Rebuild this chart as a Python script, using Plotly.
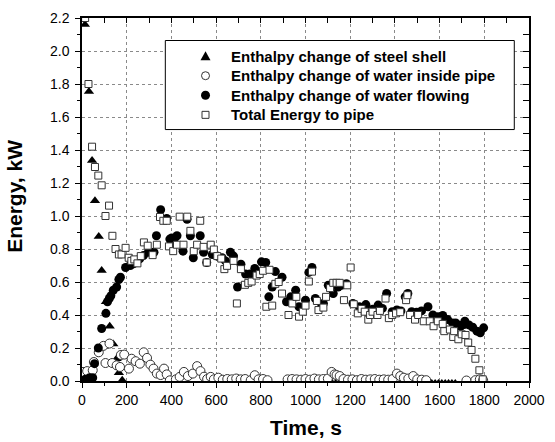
import plotly.graph_objects as go

# Enthalpy change of steel shell (kW)
shell_t = [13, 31, 45, 58, 75, 88, 107, 124, 140, 155, 165, 180,
           1120, 1135, 1150, 1165, 1180, 1195,
           1565, 1580, 1595, 1610, 1625, 1640, 1655, 1670]
shell_e = [2.16, 1.755, 1.336, 1.093, 0.876, 0.67, 0.48, 0.332, 0.224, 0.135, 0.05, 0.005,
           -0.015, -0.015, -0.015, -0.015, -0.015, -0.015,
           -0.015, -0.015, -0.015, -0.015, -0.015, -0.015, -0.015, -0.015]

# Enthalpy change of water inside pipe (kW)
inside_t = [5, 23, 48, 53, 75, 96, 105, 123, 135, 155, 170, 174, 189, 210, 222, 240, 259,
            276, 291, 306, 320, 335, 352, 367, 379, 393, 420, 437, 456, 474, 496, 515, 530,
            546, 560, 576, 590, 610, 630, 650, 670, 690, 710, 730, 755, 773, 790, 810, 830,
            920, 940, 960, 980, 1000, 1020, 1040, 1060, 1080, 1100, 1117, 1130, 1139, 1153,
            1170, 1190, 1210, 1230, 1250, 1270, 1290, 1310, 1330, 1350, 1370, 1390, 1409,
            1424, 1440, 1460, 1482, 1500, 1520, 1540, 1720, 1760, 1780, 1795]
inside_e = [0.055, 0.06, 0.065, 0.115, 0.174, 0.213, 0.109, 0.227, 0.109, 0.095, 0.085,
            0.158, 0.16, 0.075, 0.135, 0.12, 0.105, 0.174, 0.14, 0.099, 0.075, 0.045, 0.036,
            0.075, 0.04, 0.004, 0.01, 0.025, 0.055, 0.03, 0.045, 0.09, 0.06, 0.026, 0.012,
            0.025, 0.01, 0.02, 0.008, 0.012, 0.01, 0.015, 0.01, 0.012, 0.005, 0.035, 0.01,
            0.012, 0.005, 0.01, 0.012, 0.01, 0.008, 0.012, 0.008, 0.015, 0.01, 0.012, 0.015,
            0.055, 0.04, 0.036, 0.03, 0.012, 0.008, 0.01, 0.005, 0.012, 0.008, 0.01, 0.012,
            0.008, 0.01, 0.008, 0.012, 0.045, 0.03, 0.02, 0.015, 0.03, 0.01, 0.008, 0.005,
            0.003, 0.005, 0.01, 0.005]

# Enthalpy change of water flowing (kW)
flow_t = [15, 34, 48, 56, 73, 88, 107, 114, 122, 129, 140, 155, 165, 172, 195, 216, 230,
          243, 258, 275, 297, 322, 333, 352, 379, 393, 401, 415, 425, 452, 470, 485, 498,
          529, 544, 558, 583, 605, 627, 642, 664, 678, 696, 711, 732, 751, 773, 803, 822,
          836, 851, 865, 895, 915, 934, 956, 971, 1000, 1015, 1029, 1044, 1073, 1080, 1102,
          1124, 1146, 1161, 1183, 1212, 1241, 1270, 1300, 1325, 1344, 1363, 1388, 1409,
          1427, 1446, 1458, 1475, 1497, 1519, 1548, 1570, 1592, 1614, 1636, 1658, 1672,
          1687, 1694, 1709, 1713, 1731, 1748, 1767, 1782, 1797]
flow_e = [0.01, 0.02, 0.02, 0.105, 0.2, 0.318, 0.41, 0.48, 0.5, 0.516, 0.55, 0.57, 0.615,
          0.629, 0.688, 0.7, 0.71, 0.72, 0.74, 0.76, 0.78, 0.78, 0.88, 1.038, 0.985, 0.86,
          0.866, 0.866, 0.88, 0.787, 0.98, 0.88, 0.747, 0.88, 0.78, 0.718, 0.767, 0.757,
          0.747, 0.728, 0.78, 0.757, 0.57, 0.708, 0.648, 0.648, 0.682, 0.722, 0.718, 0.51,
          0.57, 0.663, 0.629, 0.48, 0.51, 0.55, 0.45, 0.49, 0.658, 0.688, 0.5, 0.46, 0.47,
          0.58, 0.53, 0.57, 0.58, 0.59, 0.47, 0.45, 0.463, 0.435, 0.46, 0.44, 0.53, 0.42,
          0.43, 0.425, 0.51, 0.53, 0.42, 0.417, 0.425, 0.45, 0.4, 0.39, 0.397, 0.372, 0.352,
          0.352, 0.338, 0.332, 0.342, 0.362, 0.34, 0.326, 0.302, 0.292, 0.322]

# Total energy to pipe (kW)
total_t = [14, 29, 45, 58, 73, 88, 105, 121, 136, 150, 165, 177, 195, 209, 221, 234, 248,
           263, 277, 294, 316, 335, 349, 364, 379, 389, 408, 425, 437, 454, 471, 485, 500,
           515, 529, 544, 558, 576, 590, 605, 623, 637, 649, 678, 693, 711, 729, 744, 759,
           781, 795, 810, 825, 839, 851, 865, 880, 895, 924, 941, 959, 971, 988, 1000, 1015,
           1029, 1051, 1058, 1080, 1092, 1110, 1124, 1139, 1153, 1172, 1187, 1202, 1216,
           1234, 1251, 1265, 1281, 1289, 1300, 1322, 1333, 1358, 1373, 1388, 1405, 1424,
           1450, 1456, 1468, 1490, 1504, 1529, 1556, 1573, 1592, 1614, 1621, 1646, 1661,
           1665, 1684, 1699, 1716, 1728, 1743, 1760, 1778, 1793]
total_e = [2.2, 1.8, 1.42, 1.297, 1.245, 1.186, 1.0, 1.063, 0.88, 0.8, 0.767, 0.767, 0.807,
           0.747, 0.728, 0.737, 0.713, 0.757, 0.84, 0.82, 0.763, 0.826, 0.994, 0.971, 0.971,
           0.816, 0.787, 0.826, 0.996, 0.826, 0.996, 0.91, 0.787, 0.826, 0.971, 0.813,
           0.718, 0.826, 0.797, 0.757, 0.742, 0.678, 0.698, 0.728, 0.47, 0.678, 0.583,
           0.595, 0.603, 0.639, 0.648, 0.668, 0.45, 0.674, 0.457, 0.589, 0.6, 0.53, 0.4,
           0.47, 0.51, 0.39, 0.42, 0.457, 0.603, 0.663, 0.485, 0.43, 0.445, 0.51, 0.563,
           0.595, 0.595, 0.595, 0.49, 0.58, 0.688, 0.465, 0.41, 0.437, 0.42, 0.372, 0.4,
           0.42, 0.4, 0.425, 0.5, 0.381, 0.4, 0.41, 0.417, 0.49, 0.52, 0.4, 0.372, 0.4,
           0.362, 0.362, 0.332, 0.362, 0.346, 0.302, 0.312, 0.267, 0.302, 0.253, 0.283,
           0.279, 0.233, 0.188, 0.135, 0.065, 0.01]

series_names = ["Enthalpy change of steel shell",
                "Enthalpy change of water inside pipe",
                "Enthalpy change of water flowing",
                "Total Energy to pipe"]

FONT = "Liberation Sans, Arial, sans-serif"
EDGE = "#333333"

fig = go.Figure()
fig.add_trace(go.Scatter(
    x=shell_t, y=shell_e, mode="markers", name=series_names[0],
    marker=dict(symbol="triangle-up", size=9, color="black", line=dict(width=0))))
fig.add_trace(go.Scatter(
    x=inside_t, y=inside_e, mode="markers", name=series_names[1],
    marker=dict(symbol="circle", size=9, color="white", line=dict(width=1, color=EDGE))))
fig.add_trace(go.Scatter(
    x=flow_t, y=flow_e, mode="markers", name=series_names[2],
    marker=dict(symbol="circle", size=9, color="black", line=dict(width=0))))
fig.add_trace(go.Scatter(
    x=total_t, y=total_e, mode="markers", name=series_names[3],
    marker=dict(symbol="square", size=7, color="white", line=dict(width=1, color=EDGE))))
# empty trace binding the frame axes (top / right) so they render
fig.add_trace(go.Scatter(x=[], y=[], xaxis="x2", yaxis="y2", showlegend=False,
                         hoverinfo="skip"))

# ---- key box drawn in paper space ----
box_x0, box_x1, box_y0, box_y1 = 0.1864, 0.9671, 0.6927, 0.938
sym_x = 0.2763
txt_x = 0.3289
row_y = [0.8949, 0.8410, 0.7871, 0.7332]

shapes = [dict(type="rect", xref="paper", yref="paper", x0=box_x0, x1=box_x1,
               y0=box_y0, y1=box_y1, line=dict(color="black", width=1),
               fillcolor="white", layer="above")]
pix = dict(xref="paper", yref="paper", xsizemode="pixel", ysizemode="pixel",
           xanchor=sym_x, layer="above")
# triangle, open circle, filled circle, open square
shapes.append(dict(type="path", yanchor=row_y[0], path="M -5 -4 L 5 -4 L 0 5 Z",
                   fillcolor="black", line=dict(width=0), **pix))
shapes.append(dict(type="circle", yanchor=row_y[1], x0=-4, x1=4, y0=-4, y1=4,
                   fillcolor="white", line=dict(color=EDGE, width=1), **pix))
shapes.append(dict(type="circle", yanchor=row_y[2], x0=-4.5, x1=4.5, y0=-4.5, y1=4.5,
                   fillcolor="black", line=dict(width=0), **pix))
shapes.append(dict(type="rect", yanchor=row_y[3], x0=-3.5, x1=3.5, y0=-3.5, y1=3.5,
                   fillcolor="white", line=dict(color=EDGE, width=1), **pix))

annotations = [dict(text=name, xref="paper", yref="paper", x=txt_x, y=yy,
                    xanchor="left", yanchor="middle", showarrow=False,
                    font=dict(family=FONT, size=15, color="black", weight="bold"))
               for name, yy in zip(series_names, row_y)]
annotations += [
    dict(text="Time, s", xref="paper", yref="paper", x=0.5, y=-0.128,
         xanchor="center", yanchor="middle", showarrow=False,
         font=dict(family=FONT, size=21, color="black", weight="bold")),
    dict(text="Energy, kW", xref="paper", yref="paper", x=-0.15, y=0.51,
         xanchor="center", yanchor="middle", textangle=-90, showarrow=False,
         font=dict(family=FONT, size=21, color="black", weight="bold")),
]

axis_common = dict(showline=True, linecolor="black", linewidth=1.5, zeroline=False,
                   tickcolor="black", tickwidth=1.2,
                   tickfont=dict(family=FONT, size=14, color="black"))

fig.update_layout(
    width=555, height=442,
    margin=dict(l=82, r=17, t=10, b=61),
    paper_bgcolor="white", plot_bgcolor="white",
    showlegend=False,
    xaxis=dict(range=[0, 2000], tick0=0, dtick=200, ticks="outside", ticklen=5,
               showgrid=True, gridcolor="#8a8a8a", gridwidth=1, griddash="dot",
               minor=dict(dtick=100, ticks="outside", ticklen=3, tickcolor="black",
                          showgrid=False),
               **axis_common),
    yaxis=dict(range=[0, 2.2], tick0=0, dtick=0.2, tickformat=".1f", ticks="outside",
               ticklen=5, ticklabelstandoff=3,
               showgrid=True, gridcolor="#8a8a8a", gridwidth=1, griddash="dot",
               minor=dict(dtick=0.1, ticks="outside", ticklen=3, tickcolor="black",
                          showgrid=False),
               **axis_common),
    xaxis2=dict(range=[0, 2000], overlaying="x", side="top", anchor="y2",
                showticklabels=False, ticks="inside", tick0=0, dtick=100, ticklen=5,
                showgrid=False, showline=True, linecolor="black", linewidth=1.5,
                zeroline=False, tickcolor="black", tickwidth=1.2),
    yaxis2=dict(range=[0, 2.2], overlaying="y", side="right", anchor="x2",
                showticklabels=False, ticks="inside", tick0=0, dtick=0.1, ticklen=6,
                showgrid=False, showline=True, linecolor="black", linewidth=1.5,
                zeroline=False, tickcolor="black", tickwidth=1.2),
    shapes=shapes,
    annotations=annotations,
)

fig.write_html("out.html")
